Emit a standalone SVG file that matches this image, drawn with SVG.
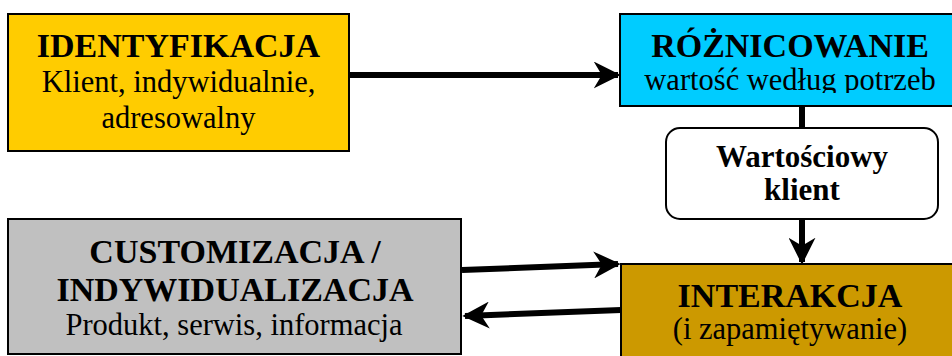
<svg xmlns="http://www.w3.org/2000/svg" width="952" height="356" viewBox="0 0 952 356">
<style>
.box{stroke:#000;stroke-width:2}
.t{text-anchor:middle;fill:#000}
.b{font-weight:bold;font-size:34px}
.r{font-size:30.5px}
.c{stroke:#000;stroke-width:6;fill:none}
</style>
<defs>
<marker id="ah" viewBox="0 0 10 10" refX="9" refY="5" markerWidth="4.5" markerHeight="4.5" orient="auto" markerUnits="strokeWidth">
<path d="M0,0 L10,5 L0,10 L3,5 Z" fill="#000"/>
</marker>
<clipPath id="clipR"><rect x="620" y="14" width="332" height="79"/></clipPath>
</defs>
<g id="identyfikacja" font-family="Liberation Serif, Times New Roman, serif">
<rect class="box" x="8" y="14" width="341" height="137" fill="#FFCC00"/>
<text class="t b" x="178.5" y="57">IDENTYFIKACJA</text>
<text class="t r" x="178.5" y="92">Klient, indywidualnie,</text>
<text class="t r" x="178.5" y="128">adresowalny</text>
</g>
<g id="roznicowanie" font-family="Liberation Serif, Times New Roman, serif">
<rect class="box" x="620" y="14" width="340" height="92" fill="#00CCFF"/>
<text class="t b" x="790" y="57">RÓŻNICOWANIE</text>
<text class="t r" x="790" y="90" clip-path="url(#clipR)">wartość według potrzeb</text>
</g>
<g id="wartosciowy" font-family="Liberation Serif, Times New Roman, serif">
<rect class="box" x="666" y="128" width="272" height="91" rx="14" fill="#FFF"/>
<text class="t" x="802" y="167" font-weight="bold" font-size="31">Wartościowy</text>
<text class="t" x="802" y="200" font-weight="bold" font-size="31">klient</text>
</g>
<g id="interakcja" font-family="Liberation Serif, Times New Roman, serif">
<rect class="box" x="621" y="264" width="340" height="100" fill="#CC9900"/>
<text class="t b" x="790" y="307">INTERAKCJA</text>
<text class="t r" x="790" y="339">(i zapamiętywanie)</text>
</g>
<g id="customizacja" font-family="Liberation Serif, Times New Roman, serif">
<rect class="box" x="8" y="219" width="453" height="135" fill="#C0C0C0"/>
<text class="t b" x="235" y="263">CUSTOMIZACJA /</text>
<text class="t b" x="235" y="301">INDYWIDUALIZACJA</text>
<text class="t r" x="234" y="335">Produkt, serwis, informacja</text>
</g>
<g id="connectors">
<line class="c" x1="349" y1="75" x2="618" y2="75" marker-end="url(#ah)"/>
<line class="c" x1="802" y1="106" x2="802" y2="128"/>
<line class="c" x1="802" y1="219" x2="802" y2="262" marker-end="url(#ah)"/>
<line class="c" x1="462" y1="270" x2="618" y2="264" marker-end="url(#ah)"/>
<line class="c" x1="621" y1="310" x2="465" y2="316" marker-end="url(#ah)"/>
</g>
</svg>
